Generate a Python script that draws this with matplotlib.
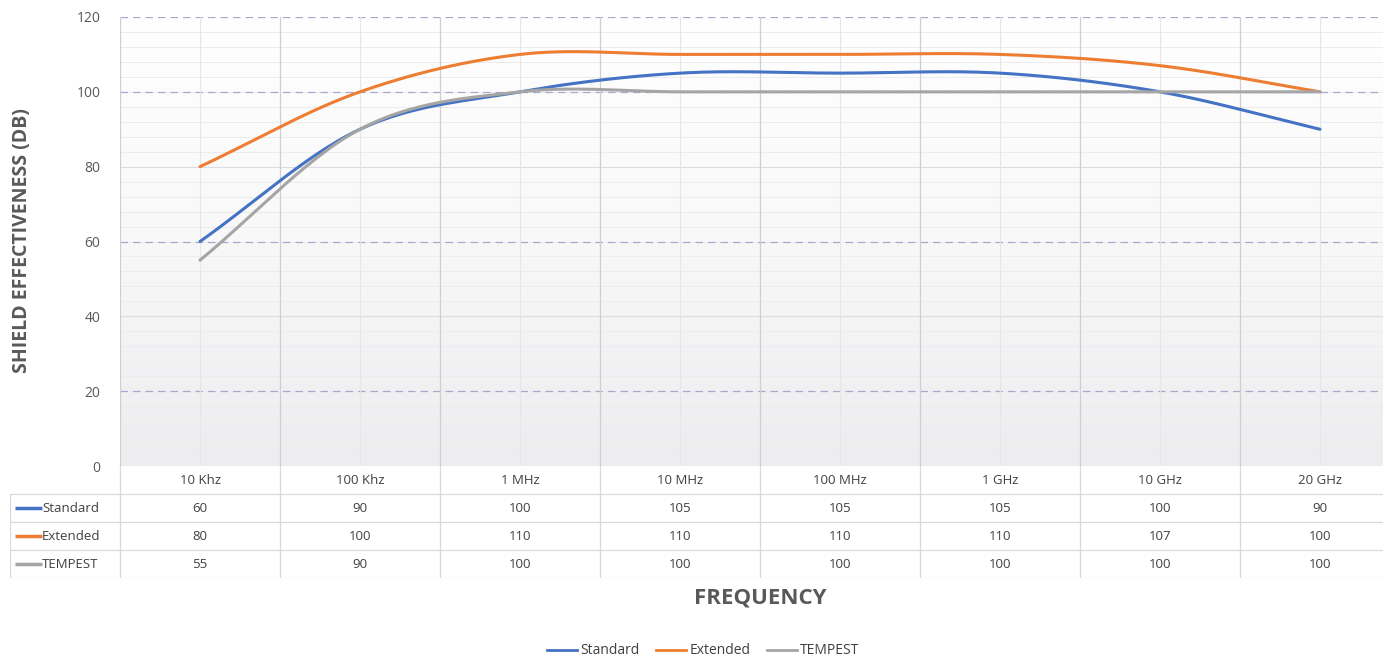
import numpy as np
import matplotlib
matplotlib.use("Agg")
from matplotlib import pyplot as plt

# datos
categorias = ["10 Khz", "100 Khz", "1 MHz", "10 MHz", "100 MHz", "1 GHz", "10 GHz", "20 GHz"]
standard = [60, 90, 100, 105, 105, 105, 100, 90]
extended = [80, 100, 110, 110, 110, 110, 107, 100]
tempest = [55, 90, 100, 100, 100, 100, 100, 100]
series = ["Standard", "Extended", "TEMPEST"]
colores = ["#4472C4", "#ED7D31", "#A5A5A5"]
yticks = [0, 20, 40, 60, 80, 100, 120]

plt.rcParams['font.family'] = ['Open Sans', 'DejaVu Sans']

W, H = 1383, 660


# suavizado tipo Excel (Catmull-Rom)
def suavizar(y, pasos=30):
    y = np.asarray(y, dtype=float)
    n = len(y)
    p = np.concatenate([[2 * y[0] - y[1]], y, [2 * y[-1] - y[-2]]])
    xs, ys = [], []
    for i in range(n - 1):
        p0, p1, p2, p3 = p[i], p[i + 1], p[i + 2], p[i + 3]
        t = np.linspace(0, 1, pasos, endpoint=(i == n - 2))
        yy = 0.5 * ((2 * p1) + (-p0 + p2) * t + (2 * p0 - 5 * p1 + 4 * p2 - p3) * t ** 2
                    + (-p0 + 3 * p1 - 3 * p2 + p3) * t ** 3)
        xs.append(i + t)
        ys.append(yy)
    return np.concatenate(xs), np.concatenate(ys)


def px(x0, y0, x1, y1):
    return [x0 / W, 1 - y1 / H, (x1 - x0) / W, (y1 - y0) / H]


fig = plt.figure(figsize=(W / 100, H / 100), dpi=100)
ax = fig.add_axes(px(120, 17, 1400, 466))
ax.set_xlim(-0.5, len(categorias) - 0.5)
ax.set_ylim(0, 120)

# fondo degradado
grad = np.linspace(0, 1, 256).reshape(-1, 1)
ax.imshow(grad, extent=[-0.5, len(categorias) - 0.5, 0, 120], origin='lower',
          aspect='auto', cmap=matplotlib.colors.LinearSegmentedColormap.from_list(
              'g', ['#EDEDEF', '#F8F8F9', '#FFFFFF']), zorder=0)

# rejilla
for v in np.arange(4, 120, 4):
    ax.axhline(v, color='#ECECEE', lw=0.7, zorder=1)
for v in yticks[1:]:
    if v in (40, 80):
        ax.axhline(v, color='#DCDCE2', lw=0.8, zorder=1)
    else:
        ax.axhline(v, color='#A8A8CC', lw=0.9, ls=(0, (6, 4)), zorder=1)
for i in range(len(categorias)):
    ax.axvline(i, color='#E6E6E6', lw=0.8, zorder=1)
    ax.axvline(i - 0.5, color='#CFCFCF', lw=0.9, zorder=1)

for vals, c in zip([standard, extended, tempest], colores):
    xs, ys = suavizar(vals)
    ax.plot(xs, ys, color=c, lw=2.2, solid_capstyle='round', zorder=3)

for s in ax.spines.values():
    s.set_visible(False)
ax.set_xticks([])
ax.set_yticks(yticks)
ax.tick_params(axis='y', length=0, pad=14, labelsize=10, labelcolor='#595959')

fig.text(22 / W, 1 - 241 / H, "SHIELD EFFECTIVENESS (DB)", rotation=90, ha='center', va='center',
         fontsize=14, fontweight='bold', color='#595959')

# tabla de datos
tab = fig.add_axes(px(10, 466, 1400, 578))
izq = -0.5 - 110 / 160
tab.set_xlim(izq, len(categorias) - 0.5)
tab.set_ylim(4, 0)
tab.axis('off')
filas = [0.5, 1.5, 2.5, 3.5]
for i, cat in enumerate(categorias):
    tab.text(i, filas[0], cat, ha='center', va='center', fontsize=9.5, color='#404040')
for r, (nombre, vals, c) in enumerate(zip(series, [standard, extended, tempest], colores)):
    y = filas[r + 1]
    for i, v in enumerate(vals):
        tab.text(i, y, str(v), ha='center', va='center', fontsize=9.5, color='#404040')
    tab.plot([izq + 0.03, izq + 0.2], [y, y], color=c, lw=2.5, solid_capstyle='butt')
    tab.text(izq + 0.2, y, nombre, ha='left', va='center', fontsize=9.5, color='#404040')
for y in [1, 2, 3, 4]:
    tab.plot([izq, len(categorias) - 0.5], [y, y], color='#D9D9D9', lw=0.9)
for i in range(len(categorias) + 1):
    tab.plot([i - 0.5, i - 0.5], [0, 4], color='#D9D9D9', lw=0.9)
tab.plot([izq, izq], [1, 4], color='#D9D9D9', lw=0.9)

fig.text(760 / W, 1 - 598 / H, "FREQUENCY", ha='center', va='center', fontsize=16,
         fontweight='bold', color='#595959')

# leyenda
handles = [plt.Line2D([], [], color=c, lw=2) for c in colores]
fig.legend(handles, series, loc='center', bbox_to_anchor=(703 / W, 1 - 651 / H), ncol=3,
           frameon=False, fontsize=10, handlelength=2.2, handletextpad=0.2, columnspacing=1.2,
           labelcolor='#404040')

fig.savefig("out.png", dpi=100)
